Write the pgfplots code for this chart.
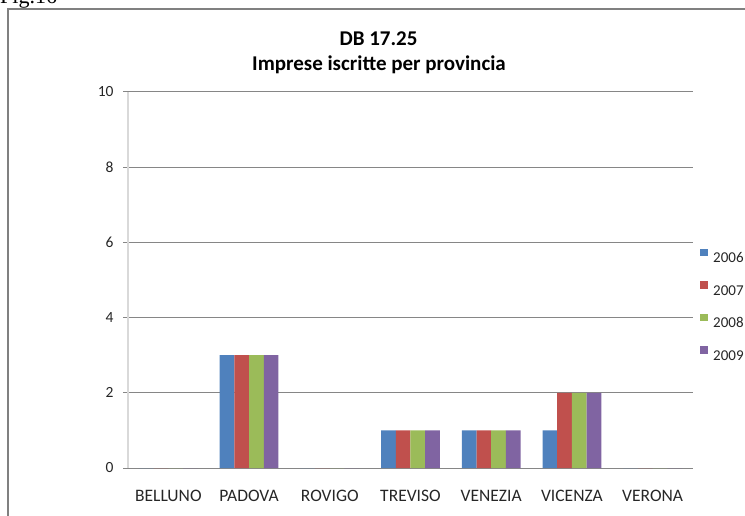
\documentclass[border=0pt]{standalone}
\usepackage{pgfplots}
\usepackage{pgfplotstable}
\pgfplotsset{compat=1.18}
\usepackage{fontspec}
\setmainfont{Carlito}
\newfontfamily\seriffont{Liberation Serif}
\definecolor{c1}{HTML}{4F81BD}
\definecolor{c2}{HTML}{C0504D}
\definecolor{c3}{HTML}{9BBB59}
\definecolor{c4}{HTML}{8064A2}
\definecolor{gridc}{HTML}{868686}
\definecolor{axc}{HTML}{D9D9D9}
\definecolor{framec}{HTML}{808080}
\pgfplotstableread{
cat y06 y07 y08 y09
0 0 0 0 0
1 3 3 3 3
2 0 0 0 0
3 1 1 1 1
4 1 1 1 1
5 1 2 2 2
6 0 0 0 0
}\data
\begin{document}
\begin{tikzpicture}
\useasboundingbox (0pt,0pt) rectangle (745pt,515pt);
\clip (0pt,0pt) rectangle (745pt,515pt);
\node[anchor=base west, inner sep=0pt, font=\seriffont\fontsize{22}{22}\selectfont] at (0pt,511pt) {Fig.16};
\draw[framec, line width=2pt] (8pt,-10pt) -- (8pt,506pt) -- (760pt,506pt);
\begin{axis}[
  at={(128pt,47pt)}, anchor=south west,
  scale only axis, width=565pt, height=376pt,
  ymin=0, ymax=10, ytick={0,2,...,10},
  xmin=-0.5, xmax=6.5,
  xtick={0,...,6},
  xticklabels={BELLUNO,PADOVA,ROVIGO,TREVISO,VENEZIA,VICENZA,VERONA},
  major x tick style={draw=none},
  extra x ticks={-0.5,0.5,...,6.5},
  extra x tick labels={},
  extra x tick style={major tick length=5pt, major tick style={draw=gridc, line width=1pt}, grid=none},
  tick align=outside,
  major tick length=5pt,
  ytick style={draw=gridc, line width=1pt},
  axis x line*=bottom, axis y line*=left,
  x axis line style={-, draw=gridc, line width=1pt},
  y axis line style={-, draw=axc, line width=1.5pt},
  ymajorgrids, grid style={draw=gridc, line width=1pt},
  x tick label style={font=\fontsize{17.5}{17.5}\selectfont, text=black!85, yshift=-13.5pt},
  y tick label style={font=\fontsize{15.5}{15.5}\selectfont, text=black!85, xshift=-6pt},
  /pgf/number format/assume math mode=true,
  ybar=0pt, bar width=14.7pt,
  legend style={at={(1.0124,0.583)}, anchor=north west, draw=none, fill=none,
    font=\fontsize{15}{15}\selectfont, row sep=18.5pt, inner sep=0pt,
    nodes={inner sep=0pt, text height=10pt, text depth=0pt, text=black!85},
    /tikz/every odd column/.append style={column sep=5.5pt}},
  legend cell align=left,
  legend image code/.code={\fill[#1] (0pt,1.5pt) rectangle (7.5pt,9pt);},
]
\addplot[fill=c1, draw=none] table[x=cat,y=y06] {\data};
\addplot[fill=c2, draw=none] table[x=cat,y=y07] {\data};
\addplot[fill=c3, draw=none] table[x=cat,y=y08] {\data};
\addplot[fill=c4, draw=none] table[x=cat,y=y09] {\data};
\legend{2006,2007,2008,2009}
\end{axis}
\node[anchor=base, inner sep=0pt, font=\bfseries\fontsize{21}{21}\selectfont] at (378.5pt,469pt) {DB 17.25};
\node[anchor=base, inner sep=0pt, font=\bfseries\fontsize{21}{21}\selectfont] at (379pt,444pt) {Imprese iscritte per provincia};
\end{tikzpicture}
\end{document}
